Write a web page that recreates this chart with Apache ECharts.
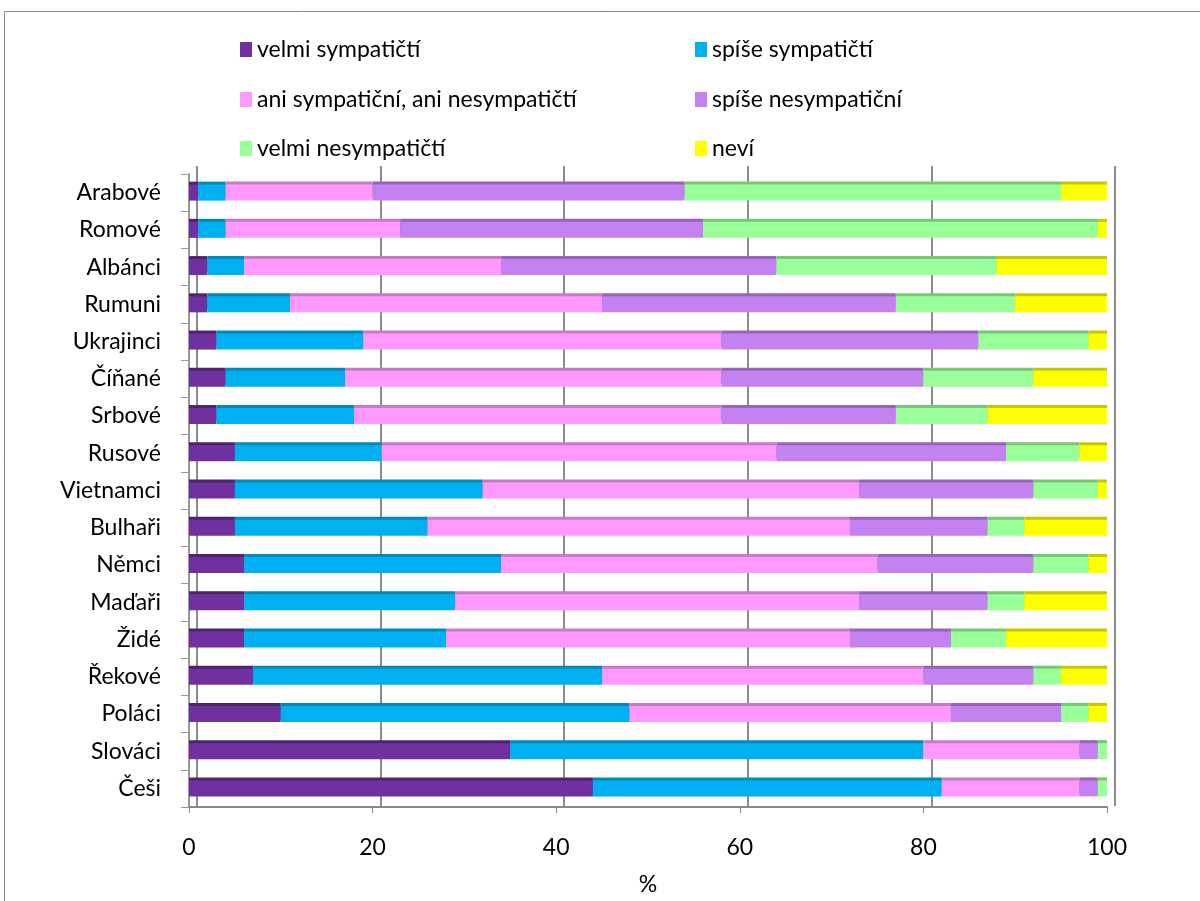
<!DOCTYPE html>
<html><head><meta charset="utf-8">
<script src="https://cdn.jsdelivr.net/npm/echarts@6/dist/echarts.min.js"></script>
<style>html,body{margin:0;padding:0;background:#fff}#c{width:1200px;height:901px}</style>
</head><body><div id="c"></div>
<script>
const categories = ['Arabové','Romové','Albánci','Rumuni','Ukrajinci','Číňané','Srbové','Rusové','Vietnamci','Bulhaři','Němci','Maďaři','Židé','Řekové','Poláci','Slováci','Češi'];
const seriesNames = ['velmi sympatičtí','spíše sympatičtí','ani sympatiční, ani nesympatičtí','spíše nesympatiční','velmi nesympatičtí','neví'];
const velmiSymp   = [1,1,2,2,3,4,3,5,5,5,6,6,6,7,10,35,44];
const spiseSymp   = [3,3,4,9,16,13,15,16,27,21,28,23,22,38,38,45,38];
const ani         = [16,19,28,34,39,41,40,43,41,46,41,44,44,35,35,17,15];
const spiseNesymp = [34,33,30,32,28,22,19,25,19,15,17,14,11,12,12,2,2];
const velmiNesymp = [41,43,24,13,12,12,10,8,7,4,6,4,6,3,3,1,1];
const nevi        = [5,1,12,10,2,8,13,3,1,9,2,9,11,5,2,0,0];
const xTicks = [0,20,40,60,80,100];

const values = [velmiSymp, spiseSymp, ani, spiseNesymp, velmiNesymp, nevi];
const colors = ['#7030A0','#00B0F0','#FF99FF','#C382F0','#99FF99','#FFFF00'];
const topColors = ['#4F2270','#0089BC','#C77AC7','#9962BE','#77C777','#C7C700'];
const FONT = 'Lato';
const FS = 23;

const series = values.map((v,i)=>({
  name: seriesNames[i], type:'bar', stack:'s', xAxisIndex:0, yAxisIndex:0,
  data: v, barWidth: 16,
  itemStyle:{color:colors[i], shadowColor:topColors[i], shadowOffsetY:-3, shadowBlur:0},
  emphasis:{disabled:true}
}));

const legendPos = [[240,38],[695,38],[240,88],[695,88],[240,137],[695,137]];
const legends = seriesNames.map((n,i)=>({
  data:[n], left:legendPos[i][0], top:legendPos[i][1], padding:0, itemWidth:12, itemHeight:15, itemGap:4,
  icon:'rect', textStyle:{fontSize:FS, color:'#000', fontFamily:FONT}, selectedMode:false
}));

const chart = echarts.init(document.getElementById('c'));
chart.setOption({
  animation:false,
  color: colors,
  legend: legends,
  graphic:[{type:'rect', shape:{x:4.5,y:11.5,width:1300,height:1000}, style:{fill:'none', stroke:'#888', lineWidth:1}, silent:true}],
  grid:[
    {left:189, right:93, top:174, height:640, containLabel:false},
    {left:197, right:85, top:166, height:640, containLabel:false}
  ],
  xAxis:[
    {gridIndex:0, type:'value', min:0, max:100, interval:20,
     axisLine:{show:true, lineStyle:{color:'#888', width:2}},
     axisTick:{show:true, length:6, lineStyle:{color:'#888'}},
     splitLine:{show:false},
     axisLabel:{fontSize:FS, color:'#000', fontFamily:FONT, margin:29, formatter:(v)=>xTicks.includes(v)?String(v):''},
     name:'%', nameLocation:'middle', nameGap:66, nameTextStyle:{fontSize:FS, color:'#000', fontFamily:FONT}},
    {gridIndex:1, type:'value', min:0, max:100, interval:20,
     axisLine:{show:false}, axisTick:{show:false}, axisLabel:{show:false},
     splitLine:{show:true, lineStyle:{color:'#8c8c8c', width:2}}}
  ],
  yAxis:[
    {gridIndex:0, type:'category', data:categories, inverse:true,
     axisLine:{show:true, lineStyle:{color:'#999', width:2}},
     axisTick:{show:true, length:8, lineStyle:{color:'#999'}},
     axisLabel:{fontSize:FS, color:'#000', fontFamily:FONT, margin:28}},
    {gridIndex:1, type:'category', data:categories, inverse:true,
     axisLine:{show:false}, axisTick:{show:false}, axisLabel:{show:false}}
  ],
  series: series
});
</script></body></html>
